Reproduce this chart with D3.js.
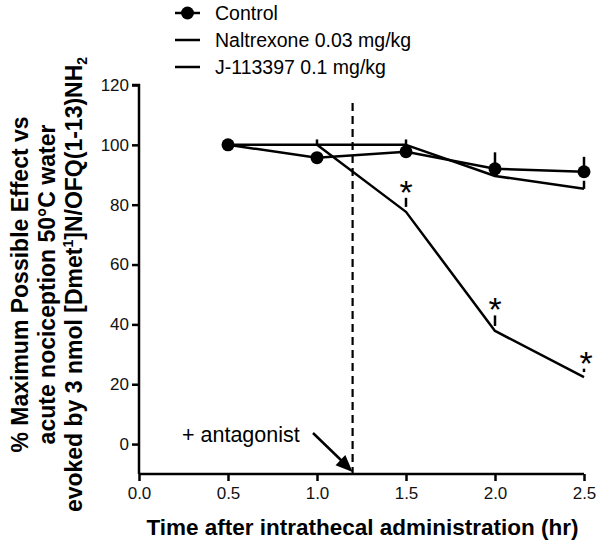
<!DOCTYPE html>
<html>
<head>
<meta charset="utf-8">
<script src="https://cdn.jsdelivr.net/npm/d3@7"></script>
<style>
  html, body { margin: 0; padding: 0; background: #fff; }
  svg { display: block; font-family: Arial, "Liberation Sans", sans-serif; }
</style>
</head>
<body>
<svg id="chart" width="600" height="542"></svg>
<script>
// ---- data ----
const times = [0.5, 1.0, 1.5, 2.0, 2.5];
const controlValues = [100, 95.7, 97.7, 92.0, 91.0];
const controlUpper = [100, 97.0, 99.0, 97.5, 96.0];
const naltrexoneValues = [100, 100, 100, 89.6, 85.3];
const naltrexoneUpper = [100, 101.8, 101.8, 91.0, 88.0];
const jTimes = [1.0, 1.5, 2.0, 2.5];
const jValues = [100, 77.6, 37.8, 22.4];
const jUpper = [100, 82.3, 43.0, 25.2];
const significantTimes = [1.5, 2.0, 2.5];
const seriesNames = ["Control", "Naltrexone 0.03 mg/kg", "J-113397 0.1 mg/kg"];
const xTicks = [0.0, 0.5, 1.0, 1.5, 2.0, 2.5];
const yTicks = [0, 20, 40, 60, 80, 100, 120];
const antagonistTime = 1.2;
const xDomain = [0, 2.5];
const yDomain = [-10, 120];

// ---- layout ----
const svg = d3.select("#chart");
const plot = { left: 139, right: 584, top: 85, bottom: 474 };
const x = d3.scaleLinear().domain(xDomain).range([plot.left, plot.right]);
const y = d3.scaleLinear().domain(yDomain).range([plot.bottom, plot.top]);
const black = "#000";
const FONT = "Arial, 'Liberation Sans', sans-serif";

// axes
const yAxis = d3.axisLeft(y).tickValues(yTicks).tickFormat(d3.format("d")).tickSize(7).tickPadding(3);
const gy = svg.append("g").attr("transform", `translate(${plot.left},0)`).call(yAxis);
gy.select(".domain").attr("stroke-width", 2.5).attr("d", `M-7,${y(120)}H0V${plot.bottom}`);
gy.selectAll(".tick line").attr("stroke-width", 2.5);
gy.selectAll(".tick text").attr("font-size", 17).attr("font-family", FONT).attr("fill", "#111");

const xAxis = d3.axisBottom(x).tickValues(xTicks).tickFormat(d3.format(".1f")).tickSize(7).tickPadding(6);
const gx = svg.append("g").attr("transform", `translate(0,${plot.bottom})`).call(xAxis);
gx.select(".domain").attr("stroke-width", 2.5).attr("d", `M${plot.left},0H${plot.right}`);
gx.selectAll(".tick line").attr("stroke-width", 2.5);
gx.selectAll(".tick text").attr("font-size", 17).attr("font-family", FONT).attr("fill", "#111");

// axis titles
svg.append("text")
  .attr("x", (plot.left + plot.right) / 2 + 1).attr("y", 535)
  .attr("text-anchor", "middle").attr("font-size", 22.5).attr("font-weight", "bold")
  .text("Time after intrathecal administration (hr)");

const yTitle = svg.append("g").attr("transform", `translate(0,${(plot.top + plot.bottom) / 2 + 5}) rotate(-90)`);
yTitle.append("text").attr("x", 0).attr("y", 28).attr("text-anchor", "middle")
  .attr("font-size", 23).attr("font-weight", "bold").text("% Maximum Possible Effect vs");
yTitle.append("text").attr("x", 0).attr("y", 55).attr("text-anchor", "middle")
  .attr("font-size", 23).attr("font-weight", "bold").text("acute nociception 50°C water");
const t3 = yTitle.append("text").attr("x", 0).attr("y", 82).attr("text-anchor", "middle")
  .attr("font-size", 23).attr("font-weight", "bold");
t3.append("tspan").text("evoked by 3 nmol [Dmet");
t3.append("tspan").attr("font-size", 14).attr("dy", -9).text("1");
t3.append("tspan").attr("dy", 9).text("]N/OFQ(1-13)NH");
t3.append("tspan").attr("font-size", 14).attr("dy", 5).text("2");

// antagonist dashed line
svg.append("line")
  .attr("x1", x(antagonistTime)).attr("x2", x(antagonistTime))
  .attr("y1", 103).attr("y2", plot.bottom)
  .attr("stroke", black).attr("stroke-width", 2.2).attr("stroke-dasharray", "8,5");

// annotation
svg.append("text").attr("x", 182).attr("y", 442).attr("font-size", 21.5).text("+ antagonist");
svg.append("line").attr("x1", 313).attr("y1", 433).attr("x2", 343).attr("y2", 462)
  .attr("stroke", black).attr("stroke-width", 2.5);
// arrowhead (tip near axis at antagonist time)
const tip = [x(antagonistTime), plot.bottom - 2];
const ang = Math.atan2(39, 40);
const hl = 17, hw = 7;
const bx = tip[0] - hl * Math.cos(ang), by = tip[1] - hl * Math.sin(ang);
svg.append("path")
  .attr("d", `M${tip[0]},${tip[1]}L${bx + hw * Math.sin(ang)},${by - hw * Math.cos(ang)}L${bx - hw * Math.sin(ang)},${by + hw * Math.cos(ang)}Z`)
  .attr("fill", black);

const line = d3.line().x(d => x(d[0])).y(d => y(d[1]));
const lw = 2.5;

function errorBars(ts, vals, ups, gap) {
  svg.append("g").selectAll("line").data(ts.map((t, i) => [t, vals[i], ups[i]]))
    .join("line")
    .filter(d => d[2] > d[1])
    .attr("x1", d => x(d[0])).attr("x2", d => x(d[0]))
    .attr("y1", d => y(d[1]) - gap)
    .attr("y2", d => y(d[2]))
    .attr("stroke", black).attr("stroke-width", lw);
}

// Naltrexone
svg.append("path").datum(times.map((t, i) => [t, naltrexoneValues[i]]))
  .attr("d", line).attr("fill", "none").attr("stroke", black).attr("stroke-width", lw).attr("stroke-linejoin", "round");
errorBars(times, naltrexoneValues, naltrexoneUpper, 0);

// J-113397
svg.append("path").datum(jTimes.map((t, i) => [t, jValues[i]]))
  .attr("d", line).attr("fill", "none").attr("stroke", black).attr("stroke-width", lw).attr("stroke-linejoin", "round");
errorBars(jTimes, jValues, jUpper, 5);

// Control
svg.append("path").datum(times.map((t, i) => [t, controlValues[i]]))
  .attr("d", line).attr("fill", "none").attr("stroke", black).attr("stroke-width", lw);
errorBars(times, controlValues, controlUpper, 0);
svg.append("g").selectAll("circle").data(times.map((t, i) => [t, controlValues[i]]))
  .join("circle").attr("cx", d => x(d[0])).attr("cy", d => y(d[1])).attr("r", 6.5).attr("fill", black);

// significance asterisks
svg.append("g").selectAll("text").data(significantTimes)
  .join("text")
  .attr("x", (d, i) => x(d) + (i === 2 ? 2 : 0))
  .attr("y", d => y(jUpper[jTimes.indexOf(d)]) + 6)
  .attr("text-anchor", "middle").attr("font-size", 34)
  .text("*");

// legend
const legend = svg.append("g");
const rows = [13, 40, 67];
seriesNames.forEach((name, i) => {
  legend.append("line").attr("x1", 175).attr("x2", 200).attr("y1", rows[i]).attr("y2", rows[i])
    .attr("stroke", black).attr("stroke-width", lw);
  if (i === 0) legend.append("circle").attr("cx", 187.5).attr("cy", rows[i]).attr("r", 6.5).attr("fill", black);
  legend.append("text").attr("x", 215).attr("y", rows[i] + 7).attr("font-size", 19.5).text(name);
});
</script>
</body>
</html>
